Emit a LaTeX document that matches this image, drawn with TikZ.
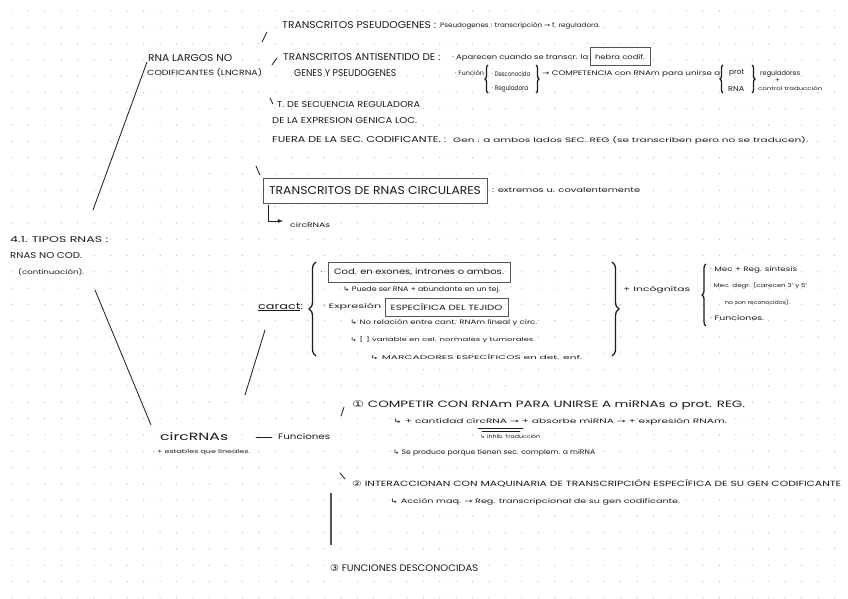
\documentclass[tikz,border=0pt]{standalone}
\usepackage{fontspec}
\setmainfont{Poppins}
\newfontfamily\sym{DejaVu Sans}
\usetikzlibrary{decorations.pathreplacing}
\definecolor{ink}{HTML}{1C1C1C}
\definecolor{boxc}{HTML}{555555}
\definecolor{dotc}{HTML}{C4C4C4}
\newcommand\hw[3]{\resizebox{#1pt}{#2pt}{#3}}
\newcommand\hk{{\sym ↳}}
\newcommand\ar{{\sym →}}
\begin{document}
\begin{tikzpicture}[x=1pt,y=-1pt,
  tx/.style={anchor=west,inner sep=0pt,text=ink},
  bx/.style={draw=boxc,line width=1pt,inner sep=0pt,text=ink},
  ln/.style={draw=ink,line width=0.8pt,line cap=round},
  br/.style={draw=ink,line width=1.3pt,decorate,decoration={brace,amplitude=#1}},
  br/.default=5]
\useasboundingbox (0,0) rectangle (848,599);
\fill[white] (0,0) rectangle (848,599);
\foreach \i in {0,...,51}{\foreach \j in {0,...,36}{\fill[dotc] ({12+16.45*\i},{11+16.3*\j}) circle (0.7);}}

% ---- top part: lncRNA
\node[tx] (t1a) at (282,25) {\hw{154}{7}{TRANSCRITOS PSEUDOGENES :}};
\node[tx] (t1b) at (440,26) {\hw{160}{5}{Pseudogenes : transcripción \ar\ f. reguladora.}};
\node[tx] (lnc1) at (148,58) {\hw{84}{7}{RNA LARGOS NO}};
\node[tx] (lnc2) at (147,73) {\hw{115}{7}{CODIFICANTES (LNCRNA)}};
\node[tx] (anti1) at (283,57) {\hw{157}{7}{TRANSCRITOS ANTISENTIDO DE :}};
\node[tx] (anti2) at (294,73) {\hw{102}{7}{GENES Y PSEUDOGENES}};
\node[tx] (apar) at (452,58) {\hw{136}{5}{· Aparecen cuando se transcr. la}};
\node[bx,minimum width=60,minimum height=18] (hebra) at (620,57) {\hw{50}{5}{hebra codif.}};
\node[tx] (fun) at (455,73) {\hw{29}{5}{· Función}};
\node[tx] (des) at (492,74) {\hw{38}{5}{· Desconocida}};
\node[tx] (reg) at (492,89) {\hw{36}{5}{· Reguladora}};
\node[tx] (comp) at (542,74) {\hw{178}{5}{\ar\ COMPETENCIA con RNAm para unirse a}};
\node[tx] (prot) at (729,73) {\hw{15}{5}{prot}};
\node[tx] (rnab) at (728,89) {\hw{16}{5}{RNA}};
\node[tx] (regul) at (760,74) {\hw{40}{5}{reguladores}};
\node[tx] (plus) at (775,81) {\hw{5}{4}{+}};
\node[tx] (ctrl) at (758,89) {\hw{64}{4}{control traducción}};
\draw[br=3] (488,93) -- (488,65);
\draw[br=3] (536,65) -- (536,93);
\draw[br=3] (723,93) -- (723,65);
\draw[br=3] (752,65) -- (752,93);

\node[tx] (tsec1) at (277,105) {\hw{143}{6}{T. DE SECUENCIA REGULADORA}};
\node[tx] (tsec2) at (272,121) {\hw{145}{6}{DE LA EXPRESION GENICA LOC.}};
\node[tx] (tsec3) at (272,140) {\hw{174}{6}{FUERA DE LA SEC. CODIFICANTE. :}};
\node[tx] (gen) at (453,140) {\hw{355}{6}{Gen : a ambos lados SEC. REG (se transcriben pero no se traducen).}};

\coordinate (s1a) at (262,42); \coordinate (s1b) at (267,32);
\coordinate (s2a) at (272,65); \coordinate (s2b) at (277,58);
\coordinate (s3a) at (270,98); \coordinate (s3b) at (273,104);
\coordinate (s4a) at (256,166); \coordinate (s4b) at (260,175);
\draw[ln] (s1a) -- (s1b);
\draw[ln] (s2a) -- (s2b);
\draw[ln] (s3a) -- (s3b);
\draw[ln] (s4a) -- (s4b);

\node[bx,minimum width=224,minimum height=25] (circ) at (375,190.5) {\hw{212}{8}{TRANSCRITOS DE RNAS CIRCULARES}};
\node[tx] (extr) at (492,190) {\hw{148}{5}{: extremos u. covalentemente}};
\coordinate (la) at (268,205); \coordinate (lb) at (268,221); \coordinate (lc) at (283,221);
\draw[ln,-latex] (la) -- (lb) -- (lc);
\node[tx] (crn) at (290,225) {\hw{40}{5}{circRNAs}};

% ---- left title
\node[tx] (tip1) at (10,240) {\hw{98}{6}{4.1. TIPOS RNAS :}};
\node[tx] (tip2) at (10,256) {\hw{72}{6}{RNAS NO COD.}};
\node[tx] (tip3) at (18,272) {\hw{66}{6}{(continuación).}};
\coordinate (l1a) at (93,210); \coordinate (l1b) at (147,62);
\coordinate (l2a) at (95,290); \coordinate (l2b) at (151,425);
\draw[ln] (l1a) -- (l1b);
\draw[ln] (l2a) -- (l2b);

% ---- circRNA characteristics
\node[tx] (car) at (258,307) {\hw{45}{6}{\underline{caract}:}};
\draw[br=7] (316,356) -- (316,262);
\node[tx] (dot1) at (320,272) {\hw{3}{2}{·}};
\node[bx,minimum width=182,minimum height=20] (cod) at (419,272) {\hw{170}{6}{Cod. en exones, intrones o ambos.}};
\node[tx] (puede) at (343,290) {\hw{157}{5}{\hk\ Puede ser RNA + abundante en un tej.}};
\node[tx] (expr) at (323,307) {\hw{58}{5}{· Expresión}};
\node[bx,minimum width=123,minimum height=18] (esp) at (446.5,307) {\hw{112}{7}{ESPECÍFICA DEL TEJIDO}};
\node[tx] (norel) at (350,323) {\hw{187}{5}{\hk\ No relación entre cant. RNAm lineal y circ.}};
\node[tx] (var) at (350,340) {\hw{185}{5}{\hk\ [\,\,] variable en cel. normales y tumorales.}};
\node[tx] (marc) at (370,357) {\hw{212}{5}{\hk\ MARCADORES ESPECÍFICOS en det. enf.}};
\draw[br=7] (612,262) -- (612,356);
\node[tx] (incog) at (623,290) {\hw{67}{5}{+ Incógnitas}};
\draw[br=4] (706,326) -- (706,264);
\node[tx] (mec1) at (710,270) {\hw{87}{5}{· Mec + Reg. síntesis}};
\node[tx] (mec2) at (710,286) {\hw{97}{5}{· Mec. degr. (carecen 3' y 5'}};
\node[tx] (mec3) at (725,302) {\hw{65}{5}{no son reconocidos).}};
\node[tx] (mec4) at (710,318) {\hw{54}{5}{· Funciones.}};
\coordinate (l3a) at (245,395); \coordinate (l3b) at (265,330);
\draw[ln] (l3a) -- (l3b);

% ---- circRNA functions
\node[tx] (circ2) at (160,437) {\hw{68}{8}{circRNAs}};
\node[tx] (est) at (153,452) {\hw{97}{4}{· + estables que lineales.}};
\coordinate (da) at (256,437); \coordinate (db) at (272,437);
\draw[ln] (da) -- (db);
\node[tx] (fun2) at (278,437) {\hw{52}{6}{Funciones}};

\coordinate (s5a) at (341,416); \coordinate (s5b) at (344,407);
\draw[ln] (s5a) -- (s5b);
\node[tx] (f1) at (352,405) {\hw{393}{7}{{\sym ①} COMPETIR CON RNAm PARA UNIRSE A miRNAs o prot. REG.}};
\node[tx] (f1a) at (393,422) {\hw{334}{5}{\hk\ + cantidad circRNA \ar\ + absorbe miRNA \ar\ + expresión RNAm.}};
\coordinate (u1a) at (478,428); \coordinate (u1b) at (523,428);
\coordinate (u2a) at (482,431); \coordinate (u2b) at (520,431);
\draw[ln,line width=0.6pt] (u1a) -- (u1b);
\draw[ln,line width=0.6pt] (u2a) -- (u2b);
\node[tx] (f1b) at (480,437) {\hw{60}{4}{\hk\ inhib. traducción}};
\node[tx] (f1c) at (393,453) {\hw{202}{5}{\hk\ Se produce porque tienen sec. complem. a miRNA}};

\coordinate (s6a) at (340,473); \coordinate (s6b) at (345,479);
\draw[ln] (s6a) -- (s6b);
\node[tx] (f2) at (352,483) {\hw{489}{7}{{\sym ②} INTERACCIONAN CON MAQUINARIA DE TRANSCRIPCIÓN ESPECÍFICA DE SU GEN CODIFICANTE}};
\node[tx] (f2a) at (390,502) {\hw{290}{5}{\hk\ Acción maq. \ar\ Reg. transcripcional de su gen codificante.}};
\coordinate (va) at (331,493); \coordinate (vb) at (331,545);
\draw[draw=boxc,line width=1.2pt] (va) -- (vb);
\node[tx] (f3) at (330,568) {\hw{148}{7}{{\sym ③} FUNCIONES DESCONOCIDAS}};
\end{tikzpicture}
\end{document}
